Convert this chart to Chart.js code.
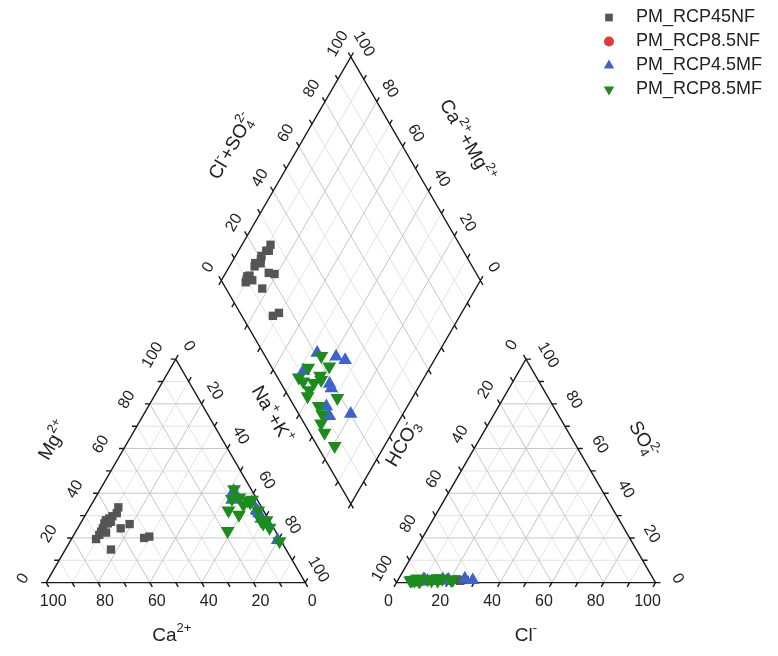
<!DOCTYPE html>
<html>
<head>
<meta charset="utf-8">
<title>Piper diagram</title>
<script src="https://cdn.jsdelivr.net/npm/chart.js@4/dist/chart.umd.min.js"></script>
<style>
  html, body { margin: 0; padding: 0; background: #fff; }
  canvas { display: block; }
</style>
</head>
<body>
<canvas id="piper" width="778" height="656"></canvas>
<script>
// sample values in % meq (Na+K = 100 - Ca - Mg, HCO3 = 100 - Cl - SO4)
const seriesNames = ['PM_RCP45NF', 'PM_RCP8.5NF', 'PM_RCP4.5MF', 'PM_RCP8.5MF'];

const nf45Ca  = [55.3, 57.2, 59.6, 61.3, 63.0, 64.3, 63.0, 66.0, 67.4, 65.7, 71.0, 59.1, 54.7, 52.2, 49.9, 67.6, 68.8, 61.5];
const nf45Mg  = [33.7, 31.1, 29.7, 28.7, 27.9, 26.5, 26.5, 24.3, 22.8, 22.4, 19.5, 24.3, 26.2, 20.0, 20.6, 14.8, 21.4, 27.2];
const nf45Cl  = [25.8, 24.2, 22.5, 20.0, 10.4, 15.2, 18.9, 15.1, 10.6, 11.3, 9.0, 18.4, 20.8, 11.2, 13.7, 13.1, 8.5, 17.9];
const nf45SO4 = [1.2, 0.8, 1.5, 1.0, 0.6, 1.8, 1.1, 0.9, 1.4, 0.7, 1.0, 1.6, 1.2, 0.8, 1.3, 0.9, 0.5, 1.1];

const nf85Ca  = [9.8, 2.7, 2.4, 7.1, 2.6, 2.4, 2.8, 1.4, 1.2];
const nf85Mg  = [37.0, 36.0, 32.0, 41.0, 32.5, 31.0, 28.5, 26.5, 19.0];
const nf85Cl  = [19.5, 25.5, 28.9, 10.6, 17.2, 17.1, 11.6, 9.8, 19.1];
const nf85SO4 = [1.3, 1.8, 1.1, 0.9, 1.5, 1.2, 0.8, 1.6, 1.0];

const mf45Ca  = [9.8, 2.7, 2.4, 7.1, 2.6, 2.4, 2.8, 1.4, 1.2];
const mf45Mg  = [37.0, 36.0, 32.0, 41.0, 32.5, 31.0, 28.5, 26.5, 19.0];
const mf45Cl  = [19.5, 25.5, 28.9, 10.6, 17.2, 17.1, 11.6, 9.8, 19.1];
const mf45SO4 = [1.3, 1.8, 1.1, 0.9, 1.5, 1.2, 0.8, 1.6, 1.0];

const mf85Ca  = [6.6, 9.6, 13.5, 6.4, 18.4, 6.5, 10.4, 3.9, 3.3, 2.0, 2.0, 3.2, 3.0, 1.0, 1.5, 0.7];
const mf85Mg  = [41.8, 37.4, 32.3, 38.1, 23.1, 34.8, 30.4, 36.7, 35.9, 37.1, 32.3, 27.9, 26.5, 27.9, 24.6, 18.5];
const mf85Cl  = [6.8, 13.1, 7.2, 20.5, 8.7, 11.3, 6.4, 14.8, 15.5, 21.1, 7.9, 8.4, 5.4, 16.8, 4.9, 5.5];
const mf85SO4 = [1.4, 0.9, 1.8, 1.2, 0.7, 1.5, 1.0, 2.0, 0.8, 1.3, 1.6, 0.6, 1.1, 1.7, 0.9, 1.2];

const axisTicks = [0, 20, 40, 60, 80, 100];

// layout of the three plots (triangle side = 100 units)
const PX = 2.645, X0 = 39, Y0 = 589, GAP = 35.2, H = Math.sqrt(3) / 2;
const FONT = '"Liberation Sans", Arial, sans-serif';

const cat = (ca, mg) => ({ x: (100 - ca - mg) + mg / 2, y: mg * H });
const an = (cl, so4) => ({ x: 100 + GAP + cl + so4 / 2, y: so4 * H });
const dia = (nak, clso4) => {
    const t = 100 + GAP + clso4 - nak;
    return { x: nak + t / 2, y: t * H };
};

function piperPoints(ca, mg, cl, so4) {
    const pts = [];
    ca.forEach((v, i) => pts.push(cat(v, mg[i])));
    ca.forEach((v, i) => pts.push(dia(100 - v - mg[i], cl[i] + so4[i])));
    cl.forEach((v, i) => pts.push(an(v, so4[i])));
    return pts;
}

const edgeAxes = [
    { at: k => cat(100 - k, 0), dir: [0.5, 0.866], off: [7, 19], rot: 0, label: k => 100 - k },
    { at: k => cat(100 - k, k), dir: [-1, 0], off: [-23, -4], rot: -60, label: k => k },
    { at: k => cat(0, 100 - k), dir: [0.5, -0.866], off: [13, -13], rot: 60, label: k => k },
    { at: k => an(k, 0), dir: [-0.5, 0.866], off: [-8, 19], rot: 0, label: k => k },
    { at: k => an(0, 100 - k), dir: [-0.5, -0.866], off: [-14, -14], rot: -60, label: k => k },
    { at: k => an(100 - k, k), dir: [1, 0], off: [22, -4], rot: 60, label: k => k },
    { at: k => dia(0, k), dir: [-0.5, -0.866], off: [-13, -13], rot: -60, label: k => k },
    { at: k => dia(k, 100), dir: [0.5, -0.866], off: [13, -13], rot: 60, label: k => 100 - k },
    { at: k => dia(k, 0), dir: [-0.5, 0.866] },
    { at: k => dia(100, k), dir: [0.5, 0.866] }
];

const titles = [
    { anchor: cat(50, 0), off: [-4, 53], rot: 0, parts: [{ t: 'Ca', sup: '2+' }] },
    { anchor: cat(50, 50), off: [-57, -30], rot: -60, parts: [{ t: 'Mg', sup: '2+' }] },
    { anchor: cat(0, 50), off: [31, -56], rot: 60, parts: [{ t: 'Na', sup: '+' }, { t: '+K', sup: '+' }] },
    { anchor: an(50, 0), off: [0, 53], rot: 0, parts: [{ t: 'Cl', sup: '-' }] },
    { anchor: an(0, 50), off: [-58, -27], rot: -60, parts: [{ t: 'HCO', sub: '3', sup: '-' }] },
    { anchor: an(50, 50), off: [52, -31], rot: 60, parts: [{ t: 'SO', sub: '4', sup: '2-' }] },
    { anchor: dia(0, 50), off: [-54, -22], rot: -60, parts: [{ t: 'Cl', sup: '-' }, { t: '+SO', sub: '4', sup: '2-' }] },
    { anchor: dia(50, 100), off: [51, -28], rot: 60, parts: [{ t: 'Ca', sup: '2+' }, { t: '+Mg', sup: '2+' }] }
];

function richText(ctx, parts, cx, cy, rot, size) {
    const small = Math.round(size * 0.66);
    ctx.save();
    ctx.translate(cx, cy);
    ctx.rotate(rot * Math.PI / 180);
    ctx.textBaseline = 'middle';
    ctx.textAlign = 'left';
    let total = 0;
    const segs = parts.map(p => {
        ctx.font = size + 'px ' + FONT;
        const w = ctx.measureText(p.t).width;
        ctx.font = small + 'px ' + FONT;
        const ws = Math.max(p.sub ? ctx.measureText(p.sub).width : 0, p.sup ? ctx.measureText(p.sup).width : 0);
        total += w + ws;
        return { p, w, ws };
    });
    let xx = -total / 2;
    segs.forEach(({ p, w, ws }) => {
        ctx.font = size + 'px ' + FONT;
        ctx.fillText(p.t, xx, 0);
        ctx.font = small + 'px ' + FONT;
        if (p.sup) ctx.fillText(p.sup, xx + w, -size * 0.38);
        if (p.sub) ctx.fillText(p.sub, xx + w, size * 0.3);
        xx += w + ws;
    });
    ctx.restore();
}

const piperFrame = {
    id: 'piperFrame',
    beforeDatasetsDraw(chart) {
        const { ctx, scales: { x, y } } = chart;
        const px = p => [x.getPixelForValue(p.x), y.getPixelForValue(p.y)];
        const seg = (a, b) => {
            const [ax, ay] = px(a), [bx, by] = px(b);
            ctx.moveTo(ax, ay);
            ctx.lineTo(bx, by);
        };
        ctx.save();
        // grid
        [[1, '#e3e3e3'], [0, '#c6c6c6']].forEach(([odd, color]) => {
            ctx.beginPath();
            for (let k = 10; k < 100; k += 10) {
                if ((k / 10) % 2 !== odd) continue;
                seg(cat(100 - k, k), cat(0, k));
                seg(cat(k, 0), cat(k, 100 - k));
                seg(cat(100 - k, 0), cat(0, 100 - k));
                seg(an(0, k), an(100 - k, k));
                seg(an(k, 0), an(k, 100 - k));
                seg(an(100 - k, 0), an(0, 100 - k));
                seg(dia(k, 0), dia(k, 100));
                seg(dia(0, k), dia(100, k));
            }
            ctx.strokeStyle = color;
            ctx.lineWidth = 1;
            ctx.stroke();
        });
        // outlines
        ctx.beginPath();
        [[cat(100, 0), cat(0, 0), cat(0, 100)],
         [an(0, 0), an(100, 0), an(0, 100)],
         [dia(100, 0), dia(0, 0), dia(0, 100), dia(100, 100)]].forEach(poly => {
            poly.forEach((p, i) => {
                const [a, b] = px(p);
                if (i === 0) ctx.moveTo(a, b); else ctx.lineTo(a, b);
            });
            ctx.closePath();
        });
        // ticks
        edgeAxes.forEach(ax => {
            for (let k = 0; k <= 100; k += 10) {
                const [a, b] = px(ax.at(k));
                ctx.moveTo(a, b);
                ctx.lineTo(a + ax.dir[0] * 5, b + ax.dir[1] * 5);
            }
        });
        ctx.strokeStyle = '#1a1a1a';
        ctx.lineWidth = 1.4;
        ctx.stroke();

        // tick labels
        ctx.fillStyle = '#222';
        ctx.font = '16px ' + FONT;
        ctx.textAlign = 'center';
        ctx.textBaseline = 'middle';
        edgeAxes.filter(ax => ax.label).forEach(ax => {
            axisTicks.forEach(k => {
                const [a, b] = px(ax.at(k));
                ctx.save();
                ctx.translate(a + ax.off[0], b + ax.off[1]);
                ctx.rotate(ax.rot * Math.PI / 180);
                ctx.fillText(String(ax.label(k)), 0, 0);
                ctx.restore();
            });
        });
        // axis titles
        titles.forEach(tt => {
            const [a, b] = px(tt.anchor);
            richText(ctx, tt.parts, a + tt.off[0], b + tt.off[1], tt.rot, 19);
        });
        ctx.restore();
    },
    afterDraw(chart) {
        // legend
        const { ctx } = chart;
        ctx.save();
        chart.data.datasets.forEach((ds, i) => {
            const yy = 17.5 + i * 24;
            ctx.fillStyle = ds.backgroundColor;
            const opts = { pointStyle: ds.pointStyle, rotation: ds.rotation || 0, radius: ds.legendRadius, borderWidth: 0 };
            if (Chart.helpers && Chart.helpers.drawPoint) {
                Chart.helpers.drawPoint(ctx, opts, 609, yy);
            }
            ctx.fillStyle = '#222';
            ctx.font = '18px ' + FONT;
            ctx.textAlign = 'left';
            ctx.textBaseline = 'middle';
            ctx.fillText(ds.label, 636, yy);
        });
        ctx.restore();
    }
};

const W = 778, HT = 656;
new Chart(document.getElementById('piper').getContext('2d'), {
    type: 'scatter',
    data: {
        datasets: [
            { label: seriesNames[0], data: piperPoints(nf45Ca, nf45Mg, nf45Cl, nf45SO4),
              pointStyle: 'rect', pointRadius: 5.9, legendRadius: 5.4,
              backgroundColor: '#555555', borderColor: '#555555', borderWidth: 0, order: 4 },
            { label: seriesNames[1], data: piperPoints(nf85Ca, nf85Mg, nf85Cl, nf85SO4),
              pointStyle: 'circle', pointRadius: 3, legendRadius: 5,
              backgroundColor: '#e23b3b', borderColor: '#e23b3b', borderWidth: 0, order: 3 },
            { label: seriesNames[2], data: piperPoints(mf45Ca, mf45Mg, mf45Cl, mf45SO4),
              pointStyle: 'triangle', pointRadius: 5.8, legendRadius: 6,
              backgroundColor: '#3f63cc', borderColor: '#3f63cc', borderWidth: 2, order: 2 },
            { label: seriesNames[3], data: piperPoints(mf85Ca, mf85Mg, mf85Cl, mf85SO4),
              pointStyle: 'triangle', rotation: 180, pointRadius: 6, legendRadius: 6,
              backgroundColor: '#1c8c1c', borderColor: '#1c8c1c', borderWidth: 2, order: 1 }
        ]
    },
    options: {
        responsive: false,
        animation: false,
        devicePixelRatio: 1,
        events: [],
        layout: { padding: 0 },
        scales: {
            x: { type: 'linear', min: -X0 / PX, max: (W - X0) / PX, display: false },
            y: { type: 'linear', min: (Y0 - HT) / PX, max: Y0 / PX, display: false }
        },
        plugins: {
            legend: { display: false },
            tooltip: { enabled: false }
        }
    },
    plugins: [piperFrame]
});
</script>
</body>
</html>
